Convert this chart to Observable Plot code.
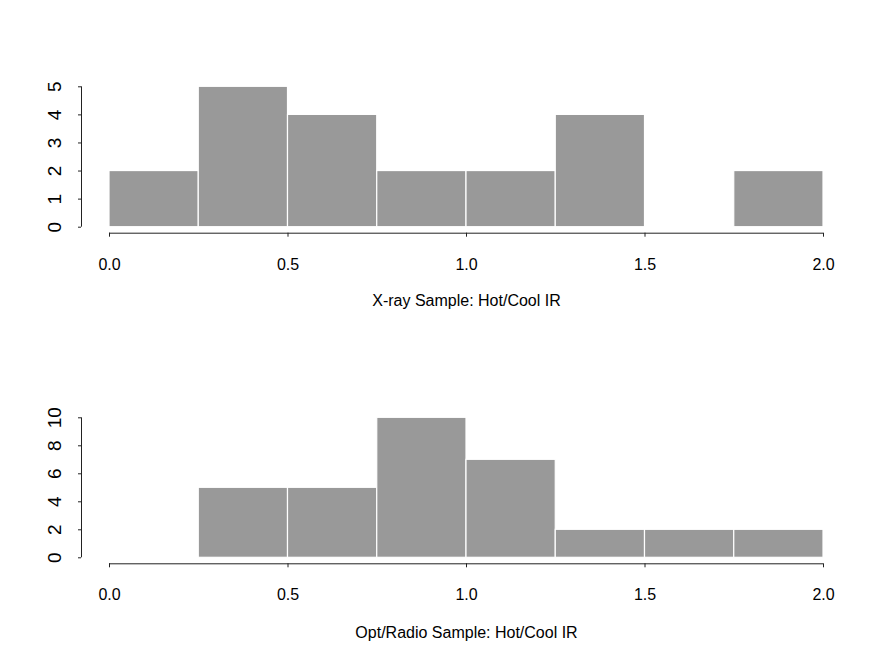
<!DOCTYPE html>
<html>
<head>
<meta charset="utf-8">
<script src="https://cdn.jsdelivr.net/npm/d3@7"></script>
<script src="https://cdn.jsdelivr.net/npm/@observablehq/plot@0.6"></script>
<style>
  html, body { margin: 0; padding: 0; background: #fff; }
  #chart svg { display: block; overflow: visible; }
</style>
</head>
<body>
<div id="chart"></div>
<script>
// Bin edges (shared by both histograms)
const binEdges = [0, 0.25, 0.5, 0.75, 1.0, 1.25, 1.5, 1.75, 2.0];
// Counts per bin
const xrayCounts = [2, 5, 4, 2, 2, 4, 0, 2];
const optRadioCounts = [0, 5, 5, 10, 7, 2, 2, 2];
// Tick labels
const xTicks = [0, 0.5, 1.0, 1.5, 2.0];
const xrayYTicks = [0, 1, 2, 3, 4, 5];
const optRadioYTicks = [0, 2, 4, 6, 8, 10];
// Axis titles
const xrayLabel = "X-ray Sample: Hot/Cool IR";
const optRadioLabel = "Opt/Radio Sample: Hot/Cool IR";

const FONT = "'Liberation Sans', Arial, Helvetica, sans-serif";

function histogram(counts, yTicks, label, mt, mb, labelDy) {
  const bins = counts.map((c, i) => ({x1: binEdges[i], x2: binEdges[i + 1], y: c})).filter(d => d.y > 0);
  const yMax = yTicks[yTicks.length - 1];
  return Plot.plot({
    width: 894,
    height: 332,
    marginLeft: 109,
    marginRight: 71,
    marginTop: mt,
    marginBottom: mb,
    style: {fontFamily: FONT, fontSize: "16px", color: "black", background: "white"},
    x: {domain: [binEdges[0], binEdges[binEdges.length - 1]], axis: null},
    y: {domain: [0, yMax], axis: null},
    marks: [
      Plot.rectY(bins, {x1: "x1", x2: "x2", y: "y", fill: "#999999", stroke: "white", strokeWidth: 1.2}),
      // x axis (R style, offset below the bars)
      Plot.ruleY([{y: 0, x1: xTicks[0], x2: xTicks[xTicks.length - 1]}], {y: "y", x1: "x1", x2: "x2", dy: 6, stroke: "#222"}),
      Plot.axisX({ticks: xTicks, tickFormat: d3.format(".1f"), tickSize: 4, tickPadding: 21, dy: 6, fontSize: 16, stroke: "#222", fill: "black", label: null}),
      // y axis (R style, offset left of the bars)
      Plot.ruleX([{x: binEdges[0], y1: 0, y2: yMax}], {x: "x", y1: "y1", y2: "y2", dx: -28, stroke: "#222"}),
      Plot.axisY({ticks: yTicks, tickFormat: () => "", tickSize: 3, dx: -28, stroke: "#222", label: null}),
      Plot.text(yTicks, {y: d => d, frameAnchor: "left", text: d => String(d), rotate: -90, textAnchor: "middle", lineAnchor: "bottom", dx: -48.5, fontSize: 19, fill: "black"}),
      // x axis title
      Plot.text([label], {frameAnchor: "bottom", text: d => d, lineAnchor: "middle", dy: labelDy, fontSize: 16, fill: "black"})
    ]
  });
}

const chart = document.getElementById("chart");
chart.appendChild(histogram(xrayCounts, xrayYTicks, xrayLabel, 86.3, 105.3, 73.3));
chart.appendChild(histogram(optRadioCounts, optRadioYTicks, optRadioLabel, 85.3, 106.7, 74.7));
</script>
</body>
</html>
